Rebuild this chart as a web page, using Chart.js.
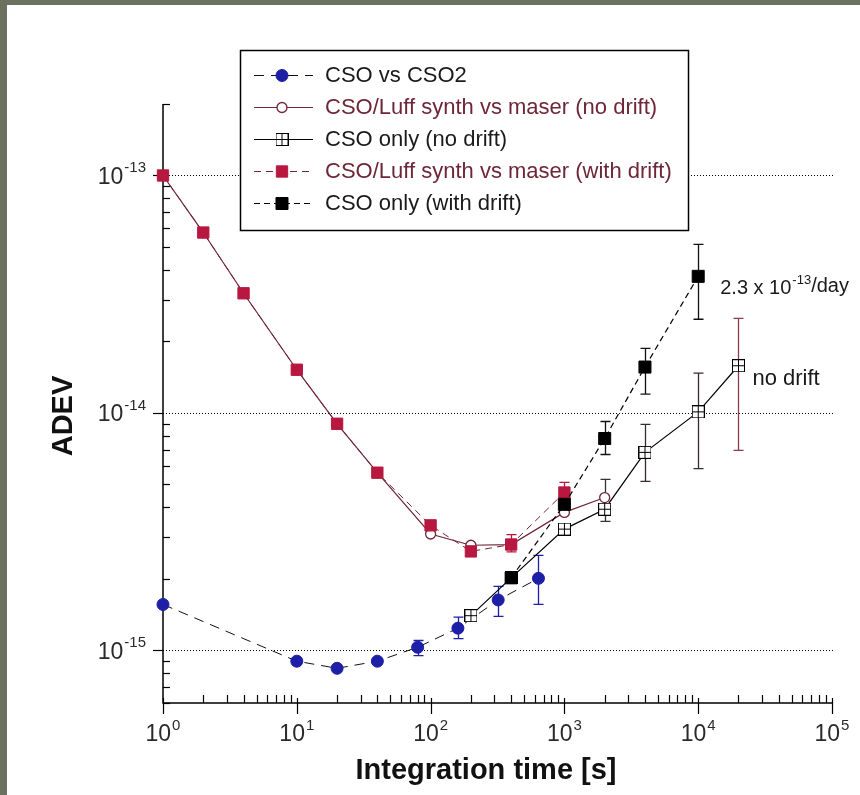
<!DOCTYPE html>
<html><head><meta charset="utf-8">
<script src="https://cdn.jsdelivr.net/npm/chart.js@4/dist/chart.umd.min.js"></script>
<style>html,body{margin:0;padding:0;background:#6c705f;} canvas{display:block;}</style>
</head><body>
<canvas id="c" width="860" height="795"></canvas>
<script>
// ---------------- DATA ----------------
const seriesNames = [
  'CSO vs CSO2',
  'CSO/Luff synth vs maser (no drift)',
  'CSO only (no drift)',
  'CSO/Luff synth vs maser (with drift)',
  'CSO only (with drift)'
];

const tauCso2 = [1, 10, 20, 40, 80, 160, 320, 640];
const adevCso2 = [1.56e-15, 9.0e-16, 8.4e-16, 9.0e-16, 1.03e-15, 1.24e-15, 1.63e-15, 2.01e-15];
const loCso2 = [null, null, null, null, 0.95e-15, 1.12e-15, 1.39e-15, 1.56e-15];
const hiCso2 = [null, null, null, null, 1.10e-15, 1.38e-15, 1.86e-15, 2.51e-15];

const tauLuffNoDrift = [1, 2, 4, 10, 20, 40, 100, 200, 400, 1000, 2000];
const adevLuffNoDrift = [1.0e-13, 5.75e-14, 3.19e-14, 1.52e-14, 9.0e-15, 5.6e-15, 3.09e-15, 2.77e-15, 2.79e-15, 3.81e-15, 4.4e-15];
const loLuffNoDrift = [null, null, null, null, null, null, null, null, null, null, 3.49e-15];
const hiLuffNoDrift = [null, null, null, null, null, null, null, null, null, null, 5.25e-15];

const tauCsoNoDrift = [200, 400, 1000, 2000, 4000, 10000, 20000];
const adevCsoNoDrift = [1.4e-15, 2.02e-15, 3.24e-15, 3.93e-15, 6.82e-15, 1.01e-14, 1.58e-14];
const loCsoNoDrift = [null, null, null, null, 5.15e-15, 5.83e-15, 6.95e-15];
const hiCsoNoDrift = [null, null, null, null, 8.95e-15, 1.47e-14, 2.5e-14];

const tauLuffDrift = [1, 2, 4, 10, 20, 40, 100, 200, 400, 1000];
const adevLuffDrift = [1.0e-13, 5.75e-14, 3.19e-14, 1.52e-14, 9.0e-15, 5.6e-15, 3.36e-15, 2.61e-15, 2.79e-15, 4.62e-15];
const loLuffDrift = [null, null, null, null, null, null, null, null, 2.6e-15, 4.2e-15];
const hiLuffDrift = [null, null, null, null, null, null, null, null, 3.07e-15, 5.1e-15];

const tauCsoDrift = [400, 1000, 2000, 4000, 10000];
const adevCsoDrift = [2.02e-15, 4.12e-15, 7.8e-15, 1.56e-14, 3.76e-14];
const loCsoDrift = [null, null, 6.68e-15, 1.2e-14, 2.48e-14];
const hiCsoDrift = [null, null, 9.2e-15, 1.87e-14, 5.13e-14];

const xTickValues = [1, 10, 100, 1000, 10000, 100000];
const xTickExps = ['0', '1', '2', '3', '4', '5'];
const yTickValues = [1e-15, 1e-14, 1e-13];
const yTickExps = ['-15', '-14', '-13'];

const xTitle = 'Integration time [s]';
const yTitle = 'ADEV';
const noteDrift = { base: '2.3 x 10', exp: '-13', tail: '/day', x: 10000, y: 3.76e-14 };
const noteNoDrift = { text: 'no drift', x: 20000, y: 1.58e-14 };

// ---------------- STYLE ----------------
const FONT = '"Liberation Sans", Arial, sans-serif';
const BLUE = '#1d1fa6';
const MAROON = '#6e2638';
const RED = '#b8173f';

function squarePlus() {
  const c = document.createElement('canvas');
  c.width = 13; c.height = 13;
  const g = c.getContext('2d');
  g.fillStyle = '#fff'; g.fillRect(0, 0, 13, 13);
  g.strokeStyle = '#000'; g.lineWidth = 1;
  g.strokeRect(0.5, 0.5, 12, 12);
  g.beginPath();
  g.moveTo(6.5, 0.5); g.lineTo(6.5, 12.5);
  g.moveTo(0.5, 6.5); g.lineTo(12.5, 6.5);
  g.stroke();
  return c;
}
const SQP = squarePlus();

const toPts = (t, v) => t.map((x, i) => ({ x: x, y: v[i] }));

const datasets = [
  { label: seriesNames[0], data: toPts(tauCso2, adevCso2), lo: loCso2, hi: hiCso2, errColor: BLUE,
    borderColor: '#111', borderWidth: 1, borderDash: [10, 7],
    pointStyle: 'circle', pointRadius: 6, pointBackgroundColor: BLUE, pointBorderColor: BLUE, pointBorderWidth: 1, order: 4 },
  { label: seriesNames[1], data: toPts(tauLuffNoDrift, adevLuffNoDrift), lo: loLuffNoDrift, hi: hiLuffNoDrift, errColor: '#333',
    borderColor: MAROON, borderWidth: 1.2, borderDash: [],
    pointStyle: 'circle', pointRadius: 5, pointBackgroundColor: '#fff', pointBorderColor: MAROON, pointBorderWidth: 1.3, order: 3 },
  { label: seriesNames[2], data: toPts(tauCsoNoDrift, adevCsoNoDrift), lo: loCsoNoDrift, hi: hiCsoNoDrift, errColor: '#3a2a2e', errColorLast: '#8c3c50',
    borderColor: '#000', borderWidth: 1.2, borderDash: [],
    pointStyle: SQP, pointRadius: 6, order: 2 },
  { label: seriesNames[3], data: toPts(tauLuffDrift, adevLuffDrift), lo: loLuffDrift, hi: hiLuffDrift, errColor: RED,
    borderColor: MAROON, borderWidth: 1, borderDash: [7, 5],
    pointStyle: 'rect', pointRadius: 8, pointBackgroundColor: RED, pointBorderColor: RED, pointBorderWidth: 1, order: 1 },
  { label: seriesNames[4], data: toPts(tauCsoDrift, adevCsoDrift), lo: loCsoDrift, hi: hiCsoDrift, errColor: '#111',
    borderColor: '#000', borderWidth: 1.2, borderDash: [6, 4],
    pointStyle: 'rect', pointRadius: 8.5, pointBackgroundColor: '#000', pointBorderColor: '#000', pointBorderWidth: 1, order: 0 }
];
datasets.forEach(d => { d.fill = false; d.tension = 0; d.clip = false; d.showLine = true; });

const legendTextColors = ['#1a1a1a', MAROON, '#1a1a1a', MAROON, '#1a1a1a'];

function drawSup(ctx, base, exp, x, yMid, align, baseSize, expSize, color) {
  ctx.save();
  ctx.fillStyle = color;
  ctx.textBaseline = 'alphabetic';
  ctx.textAlign = 'left';
  ctx.font = baseSize + 'px ' + FONT;
  const wb = ctx.measureText(base).width;
  ctx.font = expSize + 'px ' + FONT;
  const we = ctx.measureText(exp).width;
  const total = wb + we + 1;
  let x0 = x;
  if (align === 'right') x0 = x - total;
  else if (align === 'center') x0 = x - total / 2;
  const baseLine = yMid + baseSize * 0.36;
  ctx.font = baseSize + 'px ' + FONT;
  ctx.fillText(base, x0, baseLine);
  ctx.font = expSize + 'px ' + FONT;
  ctx.fillText(exp, x0 + wb + 1, baseLine - baseSize * 0.5);
  ctx.restore();
  return x0 + total;
}

const framePlugin = {
  id: 'frame',
  beforeDraw(chart) {
    const ctx = chart.ctx;
    ctx.save();
    ctx.fillStyle = '#6c705f';
    ctx.fillRect(0, 0, chart.width, chart.height);
    ctx.fillStyle = '#ffffff';
    ctx.fillRect(7, 5, chart.width - 7, chart.height - 5);
    ctx.restore();
  },
  beforeDatasetsDraw(chart) {
    const ctx = chart.ctx, xs = chart.scales.x, ys = chart.scales.y, a = chart.chartArea;
    ctx.save();
    // dotted grid lines at decades
    ctx.strokeStyle = '#000'; ctx.lineWidth = 1; ctx.setLineDash([1, 2]);
    yTickValues.forEach(v => {
      const py = Math.round(ys.getPixelForValue(v)) + 0.5;
      ctx.beginPath(); ctx.moveTo(a.left, py); ctx.lineTo(a.right + 3, py); ctx.stroke();
    });
    ctx.setLineDash([]);
    // error bars
    datasets.forEach(d => {
      d.data.forEach((p, i) => {
        if (d.lo[i] == null) return;
        const px = Math.round(xs.getPixelForValue(p.x)) + 0.5;
        const y1 = ys.getPixelForValue(d.hi[i]), y2 = ys.getPixelForValue(d.lo[i]);
        ctx.strokeStyle = (d.errColorLast && i === d.data.length - 1) ? d.errColorLast : d.errColor;
        ctx.lineWidth = 1.3;
        ctx.beginPath();
        ctx.moveTo(px, y1); ctx.lineTo(px, y2);
        ctx.moveTo(px - 5, y1); ctx.lineTo(px + 5, y1);
        ctx.moveTo(px - 5, y2); ctx.lineTo(px + 5, y2);
        ctx.stroke();
      });
    });
    // axes
    ctx.strokeStyle = '#000'; ctx.lineWidth = 1.5;
    ctx.beginPath();
    ctx.moveTo(a.left, a.top); ctx.lineTo(a.left, a.bottom); ctx.lineTo(a.right, a.bottom);
    ctx.stroke();
    ctx.lineWidth = 1.2;
    // y ticks
    for (let d = -16; d <= -13; d++) {
      for (let m = 1; m <= 9; m++) {
        const v = m * Math.pow(10, d);
        if (v < ys.min * 0.999 || v > ys.max * 1.001) continue;
        const py = Math.round(ys.getPixelForValue(v)) + 0.5;
        ctx.beginPath();
        if (m === 1) { ctx.moveTo(a.left - 10, py); ctx.lineTo(a.left, py); }
        else { ctx.moveTo(a.left, py); ctx.lineTo(a.left + 7, py); }
        ctx.stroke();
      }
    }
    // x ticks
    for (let d = 0; d <= 5; d++) {
      for (let m = 1; m <= 9; m++) {
        const v = m * Math.pow(10, d);
        if (v > xs.max * 1.001) continue;
        const px = Math.round(xs.getPixelForValue(v)) + 0.5;
        ctx.beginPath();
        if (m === 1) { ctx.moveTo(px, a.bottom - 5); ctx.lineTo(px, a.bottom + 11); }
        else { ctx.moveTo(px, a.bottom - 8); ctx.lineTo(px, a.bottom); }
        ctx.stroke();
      }
    }
    ctx.restore();
    // tick labels
    yTickValues.forEach((v, i) => {
      drawSup(ctx, '10', yTickExps[i], a.left - 17, ys.getPixelForValue(v), 'right', 23, 15, '#2a2a2a');
    });
    xTickValues.forEach((v, i) => {
      drawSup(ctx, '10', xTickExps[i], xs.getPixelForValue(v), a.bottom + 30, 'center', 23, 15, '#2a2a2a');
    });
    // axis titles
    ctx.save();
    ctx.fillStyle = '#111';
    ctx.font = 'bold 29px ' + FONT;
    ctx.textAlign = 'center'; ctx.textBaseline = 'alphabetic';
    ctx.fillText(xTitle, 486, 779);
    ctx.translate(72, 416);
    ctx.rotate(-Math.PI / 2);
    ctx.fillText(yTitle, 0, 0);
    ctx.restore();
  },
  afterDatasetsDraw(chart) {
    const ctx = chart.ctx, xs = chart.scales.x, ys = chart.scales.y;
    // legend
    ctx.save();
    ctx.fillStyle = '#fff';
    ctx.fillRect(240, 50, 448, 180);
    ctx.strokeStyle = '#000'; ctx.lineWidth = 1.5;
    ctx.strokeRect(240.5, 50.5, 448, 180);
    const rowY = [75, 107, 139, 171, 203];
    datasets.forEach((d, i) => {
      const y = rowY[i] + 0.5;
      ctx.save();
      ctx.strokeStyle = d.borderColor; ctx.lineWidth = d.borderWidth;
      ctx.setLineDash(d.borderDash);
      ctx.beginPath(); ctx.moveTo(254, y); ctx.lineTo(313, y); ctx.stroke();
      ctx.restore();
      const style = {
        pointStyle: d.pointStyle, radius: d.pointRadius, rotation: 0,
        borderWidth: d.pointBorderWidth || 1
      };
      ctx.save();
      ctx.fillStyle = d.pointBackgroundColor || '#fff';
      ctx.strokeStyle = d.pointBorderColor || '#000';
      ctx.lineWidth = d.pointBorderWidth || 1;
      Chart.helpers.drawPoint(ctx, style, 282, y);
      ctx.restore();
      ctx.save();
      ctx.fillStyle = legendTextColors[i];
      ctx.font = '22px ' + FONT;
      ctx.textBaseline = 'middle'; ctx.textAlign = 'left';
      ctx.fillText(d.label, 325, rowY[i] + 1);
      ctx.restore();
    });
    ctx.restore();
    // annotations
    const px1 = xs.getPixelForValue(noteDrift.x) + 22, py1 = ys.getPixelForValue(noteDrift.y) + 10;
    const xe = drawSup(ctx, noteDrift.base, noteDrift.exp, px1, py1, 'left', 20, 13, '#1a1a1a');
    ctx.save();
    ctx.fillStyle = '#1a1a1a'; ctx.font = '20px ' + FONT; ctx.textBaseline = 'middle';
    ctx.fillText(noteDrift.tail, xe, py1);
    ctx.font = '22px ' + FONT;
    const px2 = xs.getPixelForValue(noteNoDrift.x) + 14, py2 = ys.getPixelForValue(noteNoDrift.y) + 13;
    ctx.fillText(noteNoDrift.text, px2, py2);
    ctx.restore();
  }
};

new Chart(document.getElementById('c'), {
  type: 'line',
  data: { datasets: datasets },
  options: {
    responsive: false,
    animation: false,
    devicePixelRatio: 1,
    layout: { padding: { left: 163, right: 28, top: 104, bottom: 92 } },
    plugins: { legend: { display: false }, tooltip: { enabled: false }, title: { display: false } },
    scales: {
      x: { type: 'logarithmic', min: 1, max: 100000, display: false },
      y: { type: 'logarithmic', min: 6e-16, max: 2e-13, display: false }
    }
  },
  plugins: [framePlugin]
});
</script>
</body></html>
